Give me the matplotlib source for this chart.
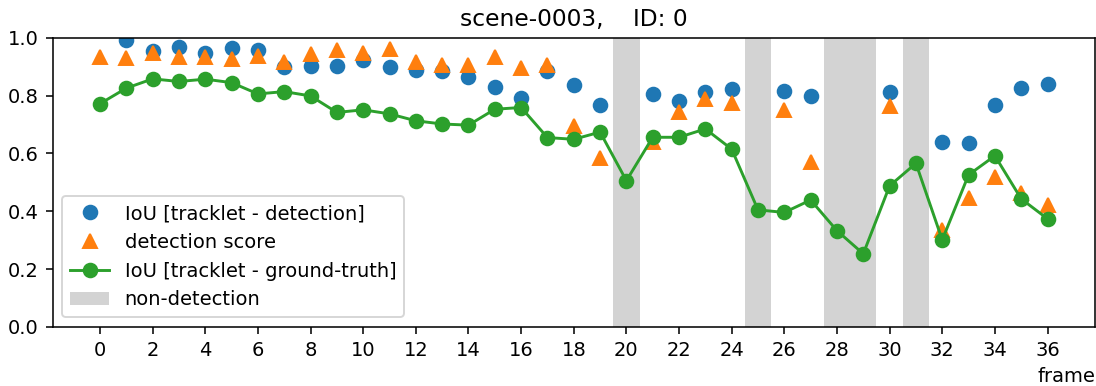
import matplotlib
matplotlib.use("Agg")
import matplotlib.pyplot as plt

# frames with a detection
det_frames = [0, 1, 2, 3, 4, 5, 6, 7, 8, 9, 10, 11, 12, 13, 14, 15, 16, 17, 18, 19,
              21, 22, 23, 24, 26, 27, 30, 32, 33, 34, 35, 36]
iou_det = [None, 0.993, 0.953, 0.968, 0.947, 0.964, 0.958, 0.899, 0.903, 0.903,
           0.922, 0.898, 0.889, 0.884, 0.864, 0.829, 0.791, 0.884, 0.837, 0.766,
           0.806, 0.783, 0.814, 0.822, 0.817, 0.800, 0.812, 0.639, 0.636, 0.766,
           0.826, 0.840]
det_score = [0.933, 0.930, 0.947, 0.935, 0.935, 0.926, 0.938, 0.918, 0.945, 0.958,
             0.949, 0.961, 0.918, 0.907, 0.907, 0.932, 0.895, 0.907, 0.696, 0.586,
             0.641, 0.742, 0.788, 0.774, 0.751, 0.572, 0.765, 0.336, 0.445, 0.520,
             0.463, 0.422]

# every frame, IoU to ground truth
frames = list(range(37))
iou_gt = [0.772, 0.826, 0.858, 0.849, 0.857, 0.845, 0.806, 0.814, 0.799, 0.742,
          0.751, 0.737, 0.713, 0.702, 0.698, 0.753, 0.759, 0.655, 0.649, 0.674,
          0.506, 0.656, 0.656, 0.685, 0.615, 0.405, 0.396, 0.439, 0.333, 0.253,
          0.488, 0.566, 0.301, 0.526, 0.592, 0.443, 0.374]

# gaps without detection (start, end frame)
gaps = [(20, 20), (25, 25), (28, 29), (31, 31)]

dpi = 140
fig, ax = plt.subplots(figsize=(1096 / dpi, 386 / dpi), dpi=dpi)
fig.subplots_adjust(left=0.048, right=0.999, top=0.902, bottom=0.153)

# frame 0 has no IoU to tracklet
bx = [f for f, v in zip(det_frames, iou_det) if v is not None]
by = [v for v in iou_det if v is not None]
ax.plot(bx, by, 'o', color='tab:blue', markersize=7, label='IoU [tracklet - detection]')
ax.plot(det_frames, det_score, '^', color='tab:orange', markersize=7, label='detection score')
ax.plot(frames, iou_gt, 'o-', color='tab:green', markersize=7, label='IoU [tracklet - ground-truth]')

for i, (a, b) in enumerate(gaps):
    ax.axvspan(a - 0.5, b + 0.5, color='lightgray', lw=0,
               label='non-detection' if i == 0 else None)

ax.set_ylim(0, 1)
ax.set_xticks(range(0, 37, 2))
ax.set_xlabel('frame', loc='right')
ax.set_title('scene-0003,    ID: 0')
ax.legend(loc='lower left')

fig.savefig('out.png', dpi=dpi)
